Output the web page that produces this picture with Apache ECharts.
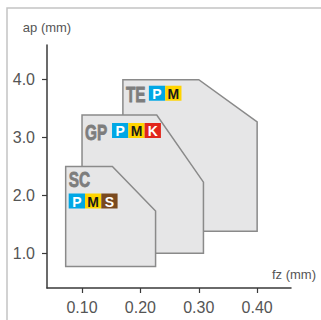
<!DOCTYPE html>
<html>
<head>
<meta charset="utf-8">
<script src="https://cdn.jsdelivr.net/npm/echarts@6.0.0/dist/echarts.min.js"></script>
<style>
    html, body { margin: 0; padding: 0; background: #fff; }
    #main { width: 321px; height: 320px; }
</style>
</head>
<body>
<div id="main"></div>
<script>
// grade windows (feed fz vs depth of cut ap), drawn back to front
var gradeNames = ['TE', 'GP', 'SC'];
var gradeFz = [
    [0.17, 0.17, 0.30, 0.40, 0.40],
    [0.10, 0.10, 0.228, 0.308, 0.308],
    [0.072, 0.072, 0.152, 0.226, 0.226]
];
var gradeAp = [
    [1.38, 4.0, 4.0, 3.27, 1.38],
    [1.0, 3.39, 3.39, 2.23, 1.0],
    [0.77, 2.5, 2.5, 1.73, 0.77]
];
var gradeIso = [['P', 'M'], ['P', 'M', 'K'], ['P', 'M', 'S']];
var xTicks = [0.10, 0.20, 0.30, 0.40];
var yTicks = [1.0, 2.0, 3.0, 4.0];

var isoColors = {
    P: ['#00a7e5', '#fff'],
    M: ['#ffd400', '#1a1a1a'],
    K: ['#e1251b', '#fff'],
    S: ['#7a4a1f', '#fff']
};
// label placement relative to top-left corner of each window (px)
var labelLayout = [
    { dx: 3, dy: 4, badgeDx: 26, badgeDy: 6 },
    { dx: 3, dy: 6, badgeDx: 30, badgeDy: 8 },
    { dx: 3, dy: 2, badgeDx: 3, badgeDy: 27 }
];

var chart = echarts.init(document.getElementById('main'), null, { renderer: 'svg' });
var narrow = '"Liberation Sans Narrow", "Liberation Sans", Arial, sans-serif';

function renderGrade(params, api) {
    var i = params.dataIndex;
    var pts = [];
    for (var k = 0; k < gradeFz[i].length; k++) {
        pts.push(api.coord([gradeFz[i][k], gradeAp[i][k]]));
    }
    var corner = pts[1];
    var lay = labelLayout[i];
    var children = [{
        type: 'polygon',
        shape: { points: pts },
        style: { fill: '#e6e6e7', stroke: '#8a8a8a', lineWidth: 1.5 }
    }, {
        type: 'text',
        x: corner[0] + lay.dx,
        y: corner[1] + lay.dy,
        scaleX: 0.7,
        style: {
            text: gradeNames[i],
            fill: '#7d7d7d',
            fontWeight: 'bold',
            fontSize: 22,
            fontFamily: narrow,
            stroke: '#7d7d7d',
            lineWidth: 0.8,
            verticalAlign: 'top'
        }
    }];
    var bx = corner[0] + lay.badgeDx;
    var by = corner[1] + lay.badgeDy;
    gradeIso[i].forEach(function (c, j) {
        children.push({
            type: 'rect',
            shape: { x: bx + j * 16.3, y: by, width: 16.3, height: 15 },
            style: { fill: isoColors[c][0] }
        });
        children.push({
            type: 'text',
            x: bx + j * 16.3 + 8.15,
            y: by + 8,
            style: {
                text: c,
                fill: isoColors[c][1],
                fontWeight: 'bold',
                fontSize: 14,
                fontFamily: '"Liberation Sans", Arial, sans-serif',
                align: 'center',
                verticalAlign: 'middle'
            }
        });
    });
    return { type: 'group', children: children };
}

var option = {
    animation: false,
    graphic: [{
        type: 'rect',
        shape: { x: 7, y: 8, width: 340, height: 340 },
        style: { fill: 'none', stroke: '#c4c4c4', lineWidth: 1.5 },
        z: -10
    }],
    grid: { left: 47, right: 30, top: 45, bottom: 32 },
    xAxis: {
        type: 'value',
        min: 0.04,
        max: 0.458,
        name: 'fz (mm)',
        nameLocation: 'end',
        nameGap: 25,
        nameTextStyle: {
            align: 'right', verticalAlign: 'bottom', padding: [0, 0, 7, 0],
            color: '#555', fontSize: 13, fontFamily: narrow
        },
        splitLine: { show: false },
        axisLine: { lineStyle: { color: '#3a3a3a', width: 1.5 } },
        axisTick: { customValues: xTicks, length: 5, lineStyle: { color: '#3a3a3a', width: 1.2 } },
        axisLabel: {
            customValues: xTicks, margin: 11,
            formatter: function (v) { return v.toFixed(2); },
            color: '#555', fontSize: 16, fontFamily: narrow
        }
    },
    yAxis: {
        type: 'value',
        min: 0.4,
        max: 4.6,
        name: 'ap (mm)',
        nameLocation: 'end',
        nameGap: 11,
        nameTextStyle: { color: '#555', fontSize: 13, fontFamily: narrow },
        splitLine: { show: false },
        axisLine: { lineStyle: { color: '#3a3a3a', width: 1.5 } },
        axisTick: { customValues: yTicks, length: 5, lineStyle: { color: '#3a3a3a', width: 1.2 } },
        axisLabel: {
            customValues: yTicks, margin: 12,
            formatter: function (v) { return v.toFixed(1); },
            color: '#555', fontSize: 16, fontFamily: narrow
        }
    },
    series: [{
        type: 'custom',
        renderItem: renderGrade,
        data: gradeNames.map(function (n, i) { return [i]; }),
        clip: false
    }]
};

chart.setOption(option);
</script>
</body>
</html>
